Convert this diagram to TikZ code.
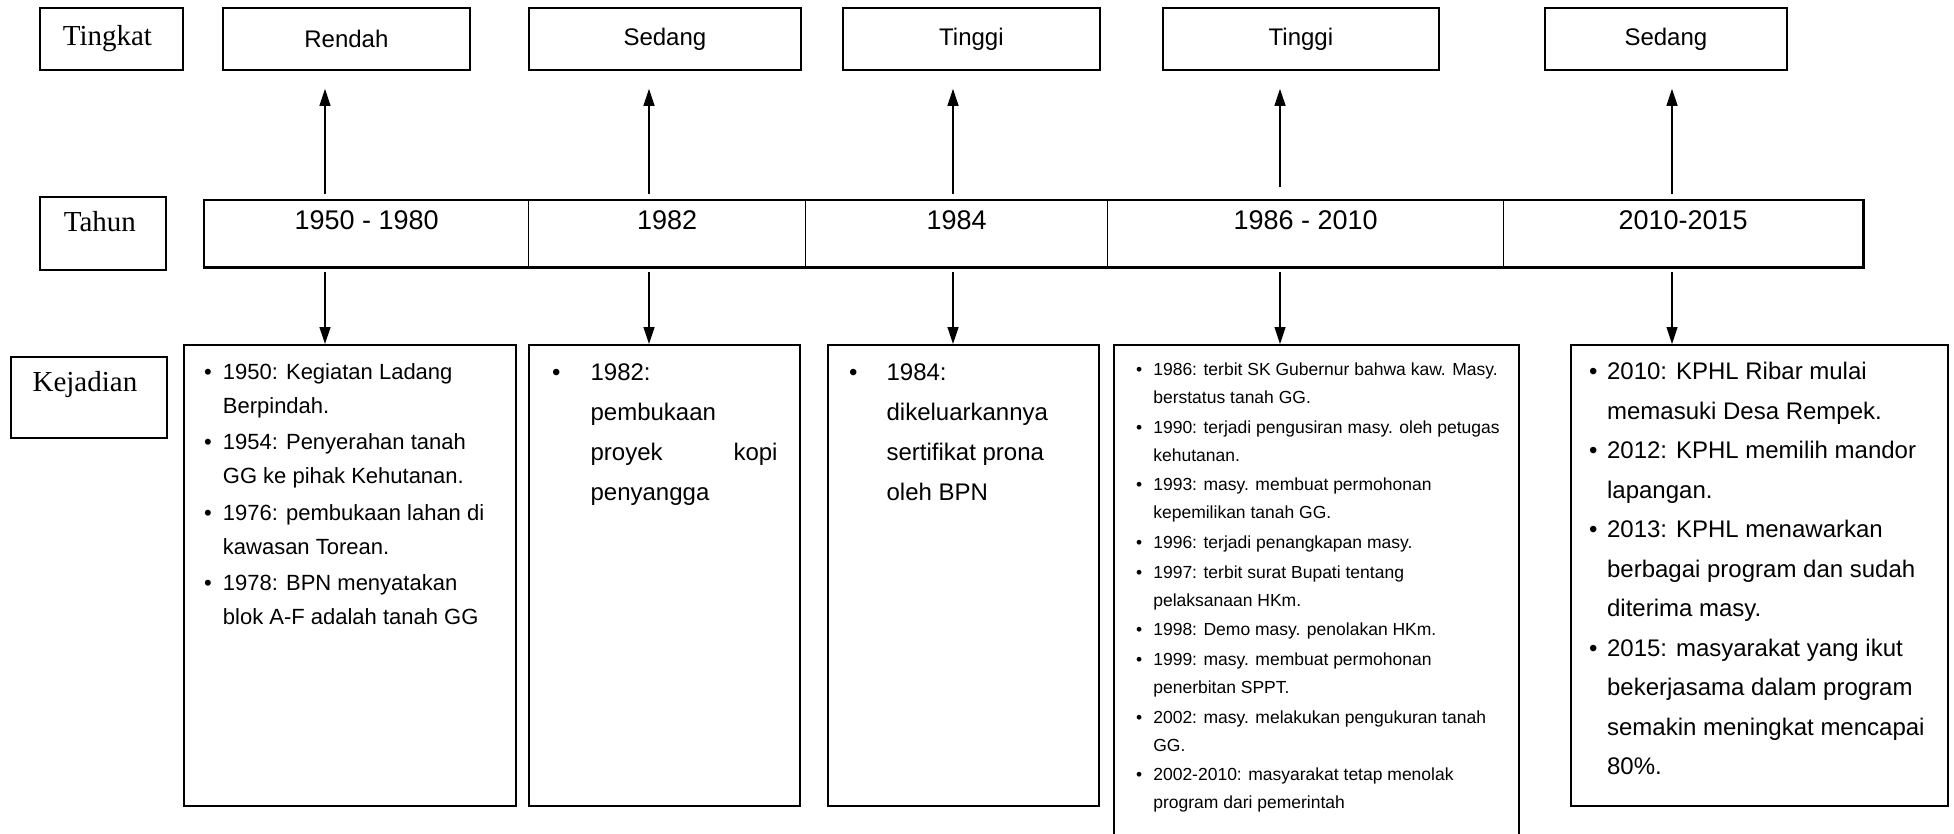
\documentclass[tikz,border=0pt]{standalone}
\usepackage{fontspec}
\setmainfont{Liberation Sans}
\newfontfamily\seriffont{Liberation Serif}
\usetikzlibrary{arrows.meta}
\newcommand{\bul}{\textbullet}
\begin{document}
\begin{tikzpicture}[x=1pt,y=-1pt,
  box/.style={draw, line width=1.8pt, inner sep=0pt, anchor=north west},
  cell/.style={draw, line width=1.4pt, inner sep=0pt, anchor=north west, minimum height=66pt},
  lbl/.style={font=\seriffont\fontsize{29}{32}\selectfont, inner sep=0pt},
  lvl/.style={font=\fontsize{24}{28}\selectfont},
  yr/.style={font=\fontsize{27}{30}\selectfont, anchor=north, inner sep=0pt},
  arr/.style={line width=1.3pt, -{Triangle[length=17pt,width=11pt]}},
  txt/.style={anchor=north west, inner sep=0pt, align=left}
]
\useasboundingbox (0,0) rectangle (1954,833);

% ---- top row: Tingkat
\node[box, minimum width=143pt, minimum height=62pt] (tingkat) at (39,7) {};
\node[lbl] (tingkatt) at ([xshift=-4pt]tingkat.center) {Tingkat};
\node[box, lvl, minimum width=247pt, minimum height=62pt] (lv1) at (222,7) {Rendah};
\node[box, lvl, minimum width=272pt, minimum height=62pt] (lv2) at (528,7) {Sedang};
\node[box, lvl, minimum width=257pt, minimum height=62pt] (lv3) at (842,7) {Tinggi};
\node[box, lvl, minimum width=276pt, minimum height=62pt] (lv4) at (1162,7) {Tinggi};
\node[box, lvl, minimum width=242pt, minimum height=62pt] (lv5) at (1544,7) {Sedang};

% ---- year row
\node[box, minimum width=126pt, minimum height=73pt] (tahun) at (39,196) {};
\node[lbl] (tahunt) at ([xshift=-3pt,yshift=-26pt]tahun.north) {Tahun};
\node[cell, minimum width=324pt] (c1) at (204,200) {};
\node[cell, minimum width=277pt] (c2) at (528,200) {};
\node[cell, minimum width=302pt] (c3) at (805,200) {};
\node[cell, minimum width=396pt] (c4) at (1107,200) {};
\node[cell, minimum width=359pt] (c5) at (1503,200) {};
\draw[line width=2.8pt] (c1.north west) rectangle (c5.south east);
\node[yr] (y1) at ([yshift=-10pt]c1.north) {1950 - 1980};
\node[yr] (y2) at ([yshift=-10pt]c2.north) {1982};
\node[yr] (y3) at ([yshift=-10pt]c3.north) {1984};
\node[yr] (y4) at ([yshift=-10pt]c4.north) {1986 - 2010};
\node[yr] (y5) at ([yshift=-10pt]c5.north) {2010-2015};

% ---- event row
\node[box, minimum width=156pt, minimum height=81pt] (kejadian) at (10,356) {};
\node[lbl] (kejt) at ([xshift=-4pt,yshift=-29pt]kejadian.north) {Kejadian};
\node[box, minimum width=332pt, minimum height=461pt] (e1) at (183,344) {};
\node[box, minimum width=271pt, minimum height=461pt] (e2) at (528,344) {};
\node[box, minimum width=271pt, minimum height=461pt] (e3) at (827,344) {};
\node[box, minimum width=405pt, minimum height=500pt] (e4) at (1113,344) {};
\node[box, minimum width=377pt, minimum height=461pt] (e5) at (1570,344) {};

% ---- columns of the connectors
\coordinate (a1) at (325,0);
\coordinate (a2) at (649,0);
\coordinate (a3) at (953,0);
\coordinate (a4) at (1280,0);
\coordinate (a5) at (1672,0);

\draw[arr] ([yshift=6pt]c1.north -| a1) -- ([yshift=-18pt]lv1.south -| a1);
\draw[arr] ([yshift=6pt]c2.north -| a2) -- ([yshift=-18pt]lv2.south -| a2);
\draw[arr] ([yshift=6pt]c3.north -| a3) -- ([yshift=-18pt]lv3.south -| a3);
\draw[arr] ([yshift=13pt]c4.north -| a4) -- ([yshift=-18pt]lv4.south -| a4);
\draw[arr] ([yshift=6pt]c5.north -| a5) -- ([yshift=-18pt]lv5.south -| a5);

\draw[arr] ([yshift=-5pt]c1.south -| a1) -- (e1.north -| a1);
\draw[arr] ([yshift=-5pt]c2.south -| a2) -- (e2.north -| a2);
\draw[arr] ([yshift=-5pt]c3.south -| a3) -- (e3.north -| a3);
\draw[arr] ([yshift=-5pt]c4.south -| a4) -- (e4.north -| a4);
\draw[arr] ([yshift=-5pt]c5.south -| a5) -- (e5.north -| a5);

% ---- event texts
\node[txt, font=\fontsize{22}{34}\selectfont] (e1t) at (204,355) {\begin{tabular}{@{}l@{\hspace{11pt}}l@{}}
\bul & 1950: Kegiatan Ladang\\
 & Berpindah.\\[2.5pt]
\bul & 1954: Penyerahan tanah\\
 & GG ke pihak Kehutanan.\\[2.5pt]
\bul & 1976: pembukaan lahan di\\
 & kawasan Torean.\\[2.5pt]
\bul & 1978: BPN menyatakan\\
 & blok A-F adalah tanah GG
\end{tabular}};

\node[txt, font=\fontsize{24}{40}\selectfont] (e2t) at (552,352) {\begin{tabular}{@{}l@{\hspace{30pt}}l@{}}
\bul & 1982:\\
 & pembukaan\\
 & \hbox to 187pt{proyek\hfill kopi}\\
 & penyangga
\end{tabular}};

\node[txt, font=\fontsize{24}{40}\selectfont] (e3t) at (849,352) {\begin{tabular}{@{}l@{\hspace{29pt}}l@{}}
\bul & 1984:\\
 & dikeluarkannya\\
 & sertifikat prona\\
 & oleh BPN
\end{tabular}};

\node[txt, font=\fontsize{17.5}{27.8}\selectfont] (e4t) at (1136,356) {\begin{tabular}{@{}l@{\hspace{11pt}}l@{}}
\bul & 1986: terbit SK Gubernur bahwa kaw. Masy.\\
 & berstatus tanah GG.\\[2pt]
\bul & 1990: terjadi pengusiran masy. oleh petugas\\
 & kehutanan.\\[2pt]
\bul & 1993: masy. membuat permohonan\\
 & kepemilikan tanah GG.\\[2pt]
\bul & 1996: terjadi penangkapan masy.\\[2pt]
\bul & 1997: terbit surat Bupati tentang\\
 & pelaksanaan HKm.\\[2pt]
\bul & 1998: Demo masy. penolakan HKm.\\[2pt]
\bul & 1999: masy. membuat permohonan\\
 & penerbitan SPPT.\\[2pt]
\bul & 2002: masy. melakukan pengukuran tanah\\
 & GG.\\[2pt]
\bul & 2002-2010: masyarakat tetap menolak\\
 & program dari pemerintah
\end{tabular}};

\node[txt, font=\fontsize{24}{39.5}\selectfont] (e5t) at (1589,352) {\begin{tabular}{@{}l@{\hspace{9.5pt}}l@{}}
\bul & 2010: KPHL Ribar mulai\\
 & memasuki Desa Rempek.\\
\bul & 2012: KPHL memilih mandor\\
 & lapangan.\\
\bul & 2013: KPHL menawarkan\\
 & berbagai program dan sudah\\
 & diterima masy.\\
\bul & 2015: masyarakat yang ikut\\
 & bekerjasama dalam program\\
 & semakin meningkat mencapai\\
 & 80\%.
\end{tabular}};
\end{tikzpicture}
\end{document}
